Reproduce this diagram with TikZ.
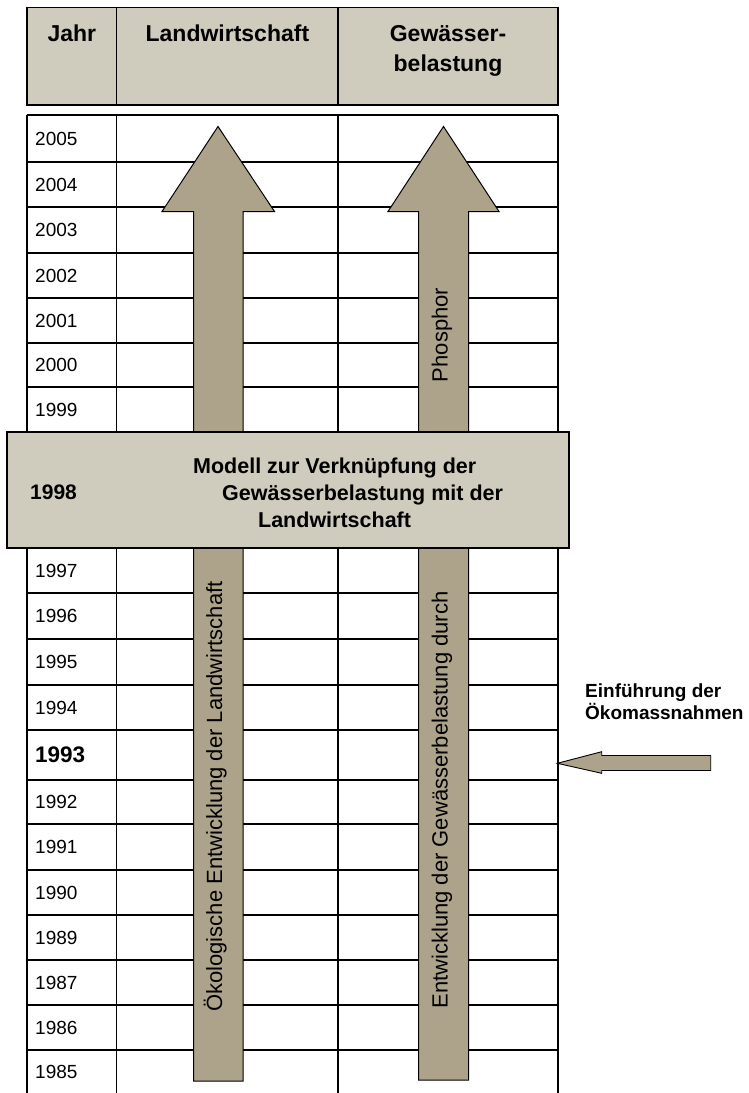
\documentclass[tikz,border=0pt]{standalone}
\usepackage{fontspec}
\setmainfont{Liberation Sans}
\definecolor{hdrc}{RGB}{208,204,189}
\definecolor{arrowc}{RGB}{172,163,138}
\tikzset{
  hdr/.style={font=\fontsize{23}{28}\selectfont\bfseries, inner sep=0pt, anchor=base},
  yr/.style={font=\fontsize{19}{22}\selectfont, anchor=west, inner sep=0pt},
  yrbold/.style={font=\fontsize{22.5}{26}\selectfont\bfseries, anchor=west, inner sep=0pt},
  vtxt/.style={font=\fontsize{22}{26}\selectfont, rotate=90, anchor=base, inner sep=0pt},
  boxtxt/.style={font=\fontsize{21.5}{27}\selectfont\bfseries, anchor=base, inner sep=0pt},
  sidetxt/.style={font=\fontsize{19}{22}\selectfont\bfseries, anchor=base west, inner sep=0pt},
  gridline/.style={line width=1.3pt, draw=black},
  bigarrow/.style={fill=arrowc, draw=black, line width=1pt, line join=miter},
  panel/.style={fill=hdrc, draw=black, line width=1.3pt}
}
\begin{document}
\begin{tikzpicture}[x=1pt,y=-1pt]
\useasboundingbox[fill=white] (0,0) rectangle (748,1093);

% ---------- header ----------
\draw[panel] (27,7.5) rectangle (558,105);
\draw[gridline] (116.7,7.5) -- (116.7,105);
\draw[gridline] (338,7.5) -- (338,105);
\node[hdr] (hjahr) at (71.8,41.7) {Jahr};
\node[hdr] (hland) at (227.4,41.7) {Landwirtschaft};
\node[hdr] (hgew1) at (448,41.7) {Gewässer-};
\node[hdr] (hgew2) at (448,71.7) {belastung};

% ---------- table grid ----------
\draw[gridline] (27,115) -- (558,115);
\foreach \yy in {162,207,253,298,343,387,593,639,685,730,780,824,870,915,960,1005,1050}
  \draw[gridline] (27,\yy) -- (558,\yy);
\foreach \xx in {27,116.7,338,558}
  \draw[gridline] (\xx,115) -- (\xx,1093);

% ---------- big arrows ----------
\draw[bigarrow] (218,126.5) -- (274.5,211.5) -- (243,211.5) -- (243,1081)
   -- (193.5,1081) -- (193.5,211.5) -- (162,211.5) -- cycle;
\draw[bigarrow] (443.5,126.5) -- (499,211.5) -- (468.5,211.5) -- (468.5,1080)
   -- (418.5,1080) -- (418.5,211.5) -- (388,211.5) -- cycle;

% ---------- model box ----------
\draw[panel] (7,432) rectangle (569,548);
\node[boxtxt] (m1) at (334.7,473) {Modell zur Verknüpfung der};
\node[boxtxt] (m2) at (362.6,500) {Gewässerbelastung mit der};
\node[boxtxt] (m3) at (334.6,527) {Landwirtschaft};
\node[font=\fontsize{21}{25}\selectfont\bfseries, anchor=west, inner sep=0pt] (y1998) at (30,492.5) {1998};

% ---------- year labels ----------
\node[yr] (y2005) at (35,138.5) {2005};
\node[yr] (y2004) at (35,184.5) {2004};
\node[yr] (y2003) at (35,230) {2003};
\node[yr] (y2002) at (35,275.5) {2002};
\node[yr] (y2001) at (35,320.5) {2001};
\node[yr] (y2000) at (35,365) {2000};
\node[yr] (y1999) at (35,409.5) {1999};
\node[yr] (y1997) at (35,570.5) {1997};
\node[yr] (y1996) at (35,616) {1996};
\node[yr] (y1995) at (35,662) {1995};
\node[yr] (y1994) at (35,707.5) {1994};
\node[yrbold] (y1993) at (35,755) {1993};
\node[yr] (y1992) at (35,802) {1992};
\node[yr] (y1991) at (35,847) {1991};
\node[yr] (y1990) at (35,892.5) {1990};
\node[yr] (y1989) at (35,937.5) {1989};
\node[yr] (y1987) at (35,982.5) {1987};
\node[yr] (y1986) at (35,1027.5) {1986};
\node[yr] (y1985) at (35,1072) {1985};

% ---------- arrow texts ----------
\node[vtxt] (tland) at (222,796.5) {Ökologische Entwicklung der Landwirtschaft};
\node[vtxt] (tgew) at (447.5,800) {Entwicklung der Gewässerbelastung durch};
\node[vtxt] (tphos) at (447.5,335) {Phosphor};

% ---------- side note ----------
\node[sidetxt] (ein1) at (585,697) {Einführung der};
\node[sidetxt] (ein2) at (585,719) {Ökomassnahmen};
\draw[bigarrow, line width=0.9pt] (557.3,763.3) -- (601.7,751.7) -- (601.7,755.5) -- (710.7,755.5)
   -- (710.7,770.5) -- (601.7,770.5) -- (601.7,773.3) -- cycle;
\end{tikzpicture}
\end{document}
